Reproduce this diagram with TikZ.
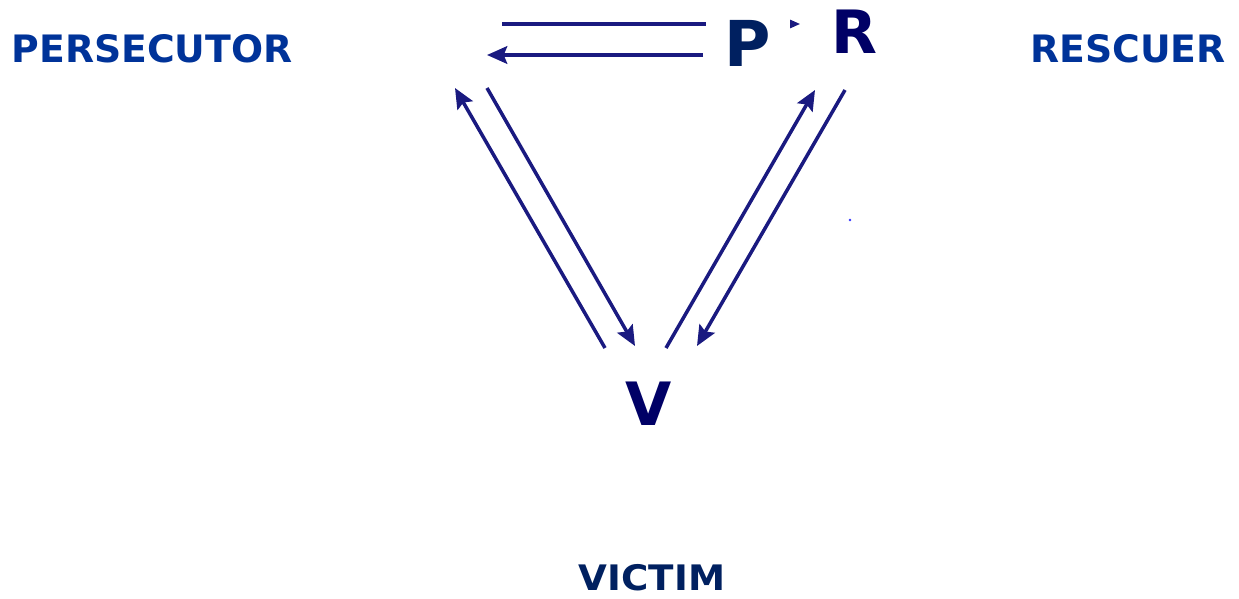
\documentclass[tikz,border=0pt]{standalone}
\usepackage{fontspec}
\setmainfont{DejaVu Sans}
\usetikzlibrary{arrows.meta}
\definecolor{rolecol}{RGB}{0,51,153}
\definecolor{navycol}{RGB}{0,32,96}
\definecolor{inkcol}{RGB}{0,0,102}
\definecolor{edgecol}{RGB}{26,26,128}

\begin{document}
\begin{tikzpicture}[x=0.02cm,y=-0.02cm]
      \useasboundingbox (0,0) rectangle (1239,598);
      % Vertices
      \tikzset{Role/.style = {inner sep=0pt,text=rolecol,
          font=\bfseries\fontsize{21.5}{21.5}\selectfont}}
      \tikzset{Letter/.style = {inner sep=0pt,
          font=\bfseries\fontsize{34}{34}\selectfont}}
      \node[Role] (pers) at (152,49) {PERSECUTOR};
      \node[Role] (resc) at (1128,49) {RESCUER};
      \node[Role,text=navycol,font=\bfseries\fontsize{20}{20}\selectfont,xscale=1.06] (vict) at (652,578) {VICTIM};

      % Edge ends
      \coordinate (p1) at (502,24);
      \coordinate (p2) at (800,24);
      \coordinate (p3) at (703,55);
      \coordinate (p4) at (487,55);
      \coordinate (l1) at (605,348);
      \coordinate (l2) at (455,88);
      \coordinate (l3) at (487,88);
      \coordinate (l4) at (635,346);
      \coordinate (r1) at (666,348);
      \coordinate (r2) at (815,90);
      \coordinate (r3) at (845,90);
      \coordinate (r4) at (697,346);

      % Edges
      \tikzset{EdgeStyle/.style = {-{Stealth[length=11.5pt,width=10pt,inset=2pt]},
          line width=2pt,draw=edgecol}}
      \draw[EdgeStyle] (p1) -- (p2);
      \draw[EdgeStyle] (p3) -- (p4);
      \draw[EdgeStyle] (l1) -- (l2);
      \draw[EdgeStyle] (l3) -- (l4);
      \draw[EdgeStyle] (r1) -- (r2);
      \draw[EdgeStyle] (r3) -- (r4);

      % Letters (P sits over the top arrow)
      \node[Letter,text=navycol,fill=white,inner xsep=0.38cm,inner ysep=6pt,
          font=\bfseries\fontsize{36}{36}\selectfont] (P) at (748,43) {P};
      \node[Letter,text=inkcol] (R) at (854,32) {R};
      \node[Letter,text=inkcol] (V) at (649,404) {V};
      \fill[blue!80] (850,220) circle (1.3);
\end{tikzpicture}
\end{document}
